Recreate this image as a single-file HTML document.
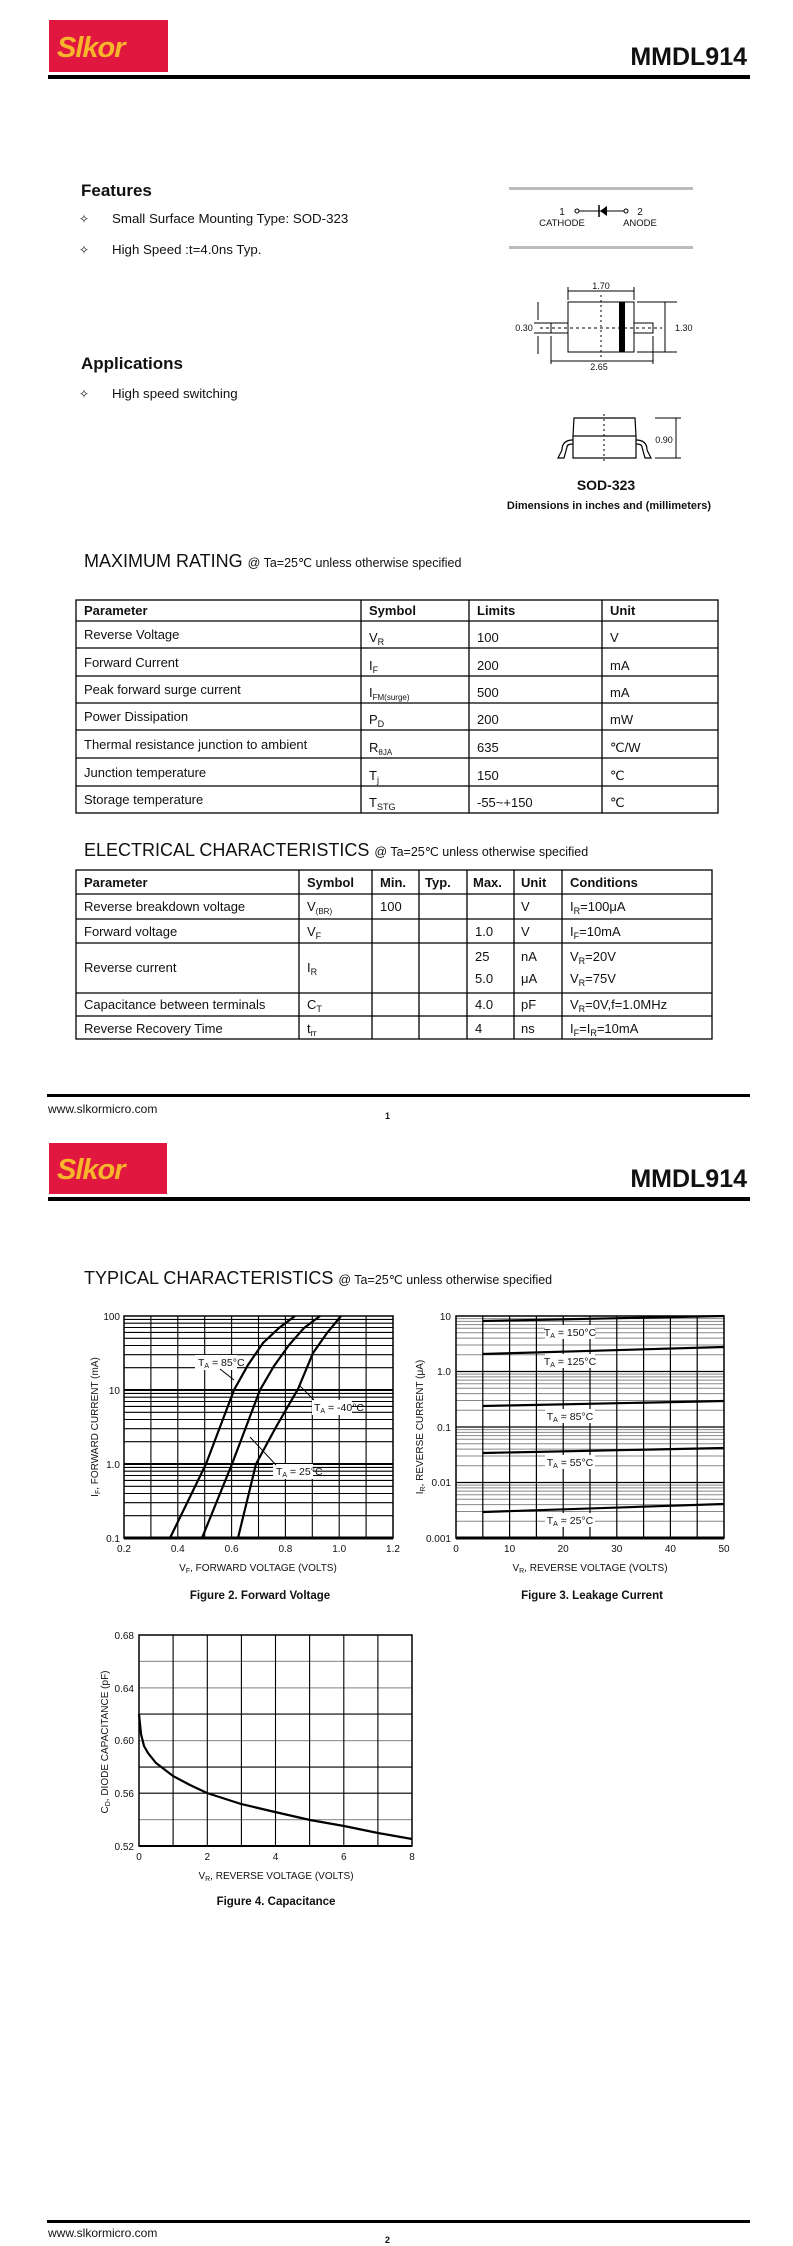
<!DOCTYPE html>
<html><head><meta charset="utf-8"><style>
html,body{margin:0;padding:0;background:#fff}
svg{display:block}
.t{font-family:"Liberation Sans",Arial,sans-serif;fill:#111}
.n{font-family:"Liberation Sans Narrow","Liberation Sans",Arial,sans-serif;fill:#111}
.b{font-weight:bold}
</style></head><body>
<svg width="793" height="2246" viewBox="0 0 793 2246" xmlns="http://www.w3.org/2000/svg">
<!-- PAGE 1 HEADER -->
<rect x="49" y="20" width="119" height="52" fill="#e0173f"/>
<text x="57" y="57" font-size="29" font-style="italic" font-weight="bold" style="fill:#f7b52c;font-family:'Liberation Sans',Arial,sans-serif;letter-spacing:-1px">Slkor</text>
<text x="747" y="65" class="t b" font-size="25" text-anchor="end">MMDL914</text>
<rect x="48" y="75" width="702" height="4" fill="#000"/>

<text x="81" y="196" class="t b" font-size="17">Features</text>
<text x="79" y="223" class="t" font-size="12">✧</text>
<text x="112" y="223" class="t" font-size="13.3">Small Surface Mounting Type: SOD-323</text>
<text x="79" y="254" class="t" font-size="12">✧</text>
<text x="112" y="254" class="t" font-size="13.3">High Speed :t=4.0ns Typ.</text>
<text x="81" y="369" class="t b" font-size="17">Applications</text>
<text x="79" y="398" class="t" font-size="12">✧</text>
<text x="112" y="398" class="t" font-size="13.3">High speed switching</text>

<!-- diode symbol -->
<rect x="509" y="187" width="184" height="3" fill="#bbb"/>
<rect x="509" y="246" width="184" height="3" fill="#bbb"/>
<text x="562" y="215" class="n" font-size="10" text-anchor="middle">1</text>
<circle cx="577" cy="211" r="2" fill="none" stroke="#000"/>
<line x1="579" y1="211" x2="624" y2="211" stroke="#000"/>
<line x1="599" y1="205" x2="599" y2="217" stroke="#000" stroke-width="1.5"/>
<polygon points="600,211 607,206 607,216" fill="#000"/>
<circle cx="626" cy="211" r="2" fill="none" stroke="#000"/>
<text x="640" y="215" class="n" font-size="10" text-anchor="middle">2</text>
<text x="562" y="226" class="n" font-size="9.5" text-anchor="middle">CATHODE</text>
<text x="640" y="226" class="n" font-size="9.5" text-anchor="middle">ANODE</text>

<!-- package top view -->
<g stroke="#000" fill="none" stroke-width="1">
<rect x="568" y="302" width="66" height="50"/>
<rect x="551" y="323" width="17" height="10"/>
<rect x="634" y="323" width="19" height="10"/>
<line x1="540" y1="328" x2="662" y2="328" stroke-dasharray="3,3"/>
<line x1="601" y1="295" x2="601" y2="360" stroke-dasharray="2,3"/>
<line x1="568" y1="287" x2="568" y2="300"/><line x1="634" y1="287" x2="634" y2="300"/>
<line x1="568" y1="291" x2="634" y2="291"/>
<line x1="637" y1="302" x2="677" y2="302"/><line x1="637" y1="352" x2="677" y2="352"/>
<line x1="665" y1="302" x2="665" y2="352"/>
<line x1="551" y1="336" x2="551" y2="364"/><line x1="653" y1="336" x2="653" y2="364"/>
<line x1="551" y1="361" x2="653" y2="361"/>
<line x1="538" y1="302" x2="538" y2="320"/><line x1="538" y1="336" x2="538" y2="354"/>
<line x1="534" y1="323" x2="551" y2="323"/><line x1="534" y1="333" x2="551" y2="333"/>
</g>
<rect x="619" y="302" width="6" height="50" fill="#000"/>
<text x="601" y="289" class="n" font-size="9" text-anchor="middle">1.70</text>
<text x="675" y="331" class="n" font-size="9">1.30</text>
<text x="524" y="331" class="n" font-size="9" text-anchor="middle">0.30</text>
<text x="599" y="370" class="n" font-size="9" text-anchor="middle">2.65</text>
<!-- side view -->
<g stroke="#000" fill="none" stroke-width="1.2">
<path d="M573,436 L574,418 L635,418 L636,436"/>
<rect x="573" y="436" width="63" height="22"/>
<path d="M573,440 Q562,440 562,450 L558,458 L564,458 L567,447 Q567,444 573,444"/>
<path d="M636,440 Q647,440 647,450 L651,458 L645,458 L642,447 Q642,444 636,444"/>
<line x1="604" y1="414" x2="604" y2="462" stroke-dasharray="2,3" stroke-width="1"/>
<line x1="655" y1="418" x2="681" y2="418" stroke-width="1"/><line x1="655" y1="458" x2="681" y2="458" stroke-width="1"/>
<line x1="676" y1="418" x2="676" y2="458" stroke-width="1"/>
</g>
<text x="664" y="443" class="n" font-size="9" text-anchor="middle">0.90</text>
<text x="606" y="490" class="t b" font-size="14" text-anchor="middle">SOD-323</text>
<text x="609" y="509" class="t b" font-size="11" text-anchor="middle">Dimensions in inches and (millimeters)</text>

<!-- MAX RATING -->
<text x="84" y="567" class="t" font-size="18">MAXIMUM RATING <tspan font-size="12.5">@ Ta=25℃  unless otherwise specified</tspan></text>
<g stroke="#000" stroke-width="1.3" fill="none">
<rect x="76" y="600" width="642" height="213"/>
<line x1="76" y1="621" x2="718" y2="621"/><line x1="76" y1="648" x2="718" y2="648"/>
<line x1="76" y1="676" x2="718" y2="676"/><line x1="76" y1="703" x2="718" y2="703"/>
<line x1="76" y1="730" x2="718" y2="730"/><line x1="76" y1="758" x2="718" y2="758"/>
<line x1="76" y1="786" x2="718" y2="786"/>
<line x1="361" y1="600" x2="361" y2="813"/><line x1="469" y1="600" x2="469" y2="813"/><line x1="602" y1="600" x2="602" y2="813"/>
</g>
<g class="t" font-size="13">
<text x="84" y="615" class="t b">Parameter</text><text x="369" y="615" class="t b">Symbol</text><text x="477" y="615" class="t b">Limits</text><text x="610" y="615" class="t b">Unit</text>
<text x="84" y="639">Reverse Voltage</text><text x="369" y="642">V<tspan font-size="9" dy="3">R</tspan></text><text x="477" y="642">100</text><text x="610" y="642">V</text>
<text x="84" y="667">Forward Current</text><text x="369" y="670">I<tspan font-size="9" dy="3">F</tspan></text><text x="477" y="670">200</text><text x="610" y="670">mA</text>
<text x="84" y="694">Peak forward surge current</text><text x="369" y="697">I<tspan font-size="8" dy="3">FM(surge)</tspan></text><text x="477" y="697">500</text><text x="610" y="697">mA</text>
<text x="84" y="721">Power Dissipation</text><text x="369" y="724">P<tspan font-size="9" dy="3">D</tspan></text><text x="477" y="724">200</text><text x="610" y="724">mW</text>
<text x="84" y="749">Thermal resistance junction to ambient</text><text x="369" y="752">R<tspan font-size="8" dy="3">θJA</tspan></text><text x="477" y="752">635</text><text x="610" y="752">℃/W</text>
<text x="84" y="777">Junction temperature</text><text x="369" y="780">T<tspan font-size="9" dy="3">j</tspan></text><text x="477" y="780">150</text><text x="610" y="780">℃</text>
<text x="84" y="804">Storage temperature</text><text x="369" y="807">T<tspan font-size="9" dy="3">STG</tspan></text><text x="477" y="807">-55~+150</text><text x="610" y="807">℃</text>
</g>

<!-- ELECTRICAL -->
<text x="84" y="856" class="t" font-size="18">ELECTRICAL CHARACTERISTICS <tspan font-size="12.5">@ Ta=25℃ unless otherwise specified</tspan></text>
<g stroke="#000" stroke-width="1.3" fill="none">
<rect x="76" y="870" width="636" height="169"/>
<line x1="76" y1="894" x2="712" y2="894"/><line x1="76" y1="919" x2="712" y2="919"/>
<line x1="76" y1="943" x2="712" y2="943"/><line x1="76" y1="993" x2="712" y2="993"/>
<line x1="76" y1="1016" x2="712" y2="1016"/>
<line x1="299" y1="870" x2="299" y2="1039"/><line x1="372" y1="870" x2="372" y2="1039"/>
<line x1="419" y1="870" x2="419" y2="1039"/><line x1="467" y1="870" x2="467" y2="1039"/>
<line x1="514" y1="870" x2="514" y2="1039"/><line x1="562" y1="870" x2="562" y2="1039"/>
</g>
<g class="t" font-size="13">
<text x="84" y="887" class="t b">Parameter</text><text x="307" y="887" class="t b">Symbol</text><text x="380" y="887" class="t b">Min.</text><text x="425" y="887" class="t b">Typ.</text><text x="473" y="887" class="t b">Max.</text><text x="521" y="887" class="t b">Unit</text><text x="570" y="887" class="t b">Conditions</text>
<text x="84" y="911">Reverse breakdown voltage</text><text x="307" y="911">V<tspan font-size="8" dy="3">(BR)</tspan></text><text x="380" y="911">100</text><text x="521" y="911">V</text><text x="570" y="911">I<tspan font-size="9" dy="3">R</tspan><tspan dy="-3">=100μA</tspan></text>
<text x="84" y="936">Forward voltage</text><text x="307" y="936">V<tspan font-size="9" dy="3">F</tspan></text><text x="475" y="936">1.0</text><text x="521" y="936">V</text><text x="570" y="936">I<tspan font-size="9" dy="3">F</tspan><tspan dy="-3">=10mA</tspan></text>
<text x="84" y="972">Reverse current</text><text x="307" y="972">I<tspan font-size="9" dy="3">R</tspan></text>
<text x="475" y="961">25</text><text x="521" y="961">nA</text><text x="570" y="961">V<tspan font-size="9" dy="3">R</tspan><tspan dy="-3">=20V</tspan></text>
<text x="475" y="983">5.0</text><text x="521" y="983">μA</text><text x="570" y="983">V<tspan font-size="9" dy="3">R</tspan><tspan dy="-3">=75V</tspan></text>
<text x="84" y="1009">Capacitance between terminals</text><text x="307" y="1009">C<tspan font-size="9" dy="3">T</tspan></text><text x="475" y="1009">4.0</text><text x="521" y="1009">pF</text><text x="570" y="1009">V<tspan font-size="9" dy="3">R</tspan><tspan dy="-3">=0V,f=1.0MHz</tspan></text>
<text x="84" y="1033">Reverse Recovery Time</text><text x="307" y="1033">t<tspan font-size="9" dy="3">rr</tspan></text><text x="475" y="1033">4</text><text x="521" y="1033">ns</text><text x="570" y="1033">I<tspan font-size="9" dy="3">F</tspan><tspan dy="-3">=I</tspan><tspan font-size="9" dy="3">R</tspan><tspan dy="-3">=10mA</tspan></text>
</g>

<rect x="47" y="1094" width="703" height="3" fill="#000"/>
<text x="48" y="1113" class="t" font-size="12">www.slkormicro.com</text>
<text x="385" y="1119" class="t b" font-size="9">1</text>

<!-- PAGE 2 HEADER -->
<rect x="49" y="1143" width="118" height="51" fill="#e0173f"/>
<text x="57" y="1179" font-size="29" font-style="italic" font-weight="bold" style="fill:#f7b52c;font-family:'Liberation Sans',Arial,sans-serif;letter-spacing:-1px">Slkor</text>
<text x="747" y="1187" class="t b" font-size="25" text-anchor="end">MMDL914</text>
<rect x="48" y="1197" width="702" height="4" fill="#000"/>

<text x="84" y="1284" class="t" font-size="18">TYPICAL CHARACTERISTICS <tspan font-size="12.5">@ Ta=25℃ unless otherwise specified</tspan></text>

<!-- FIG 2 -->
<g stroke="#000" stroke-width="1.1" fill="none">
<path d="M124,1515.7H393M124,1502.7H393M124,1493.5H393M124,1486.3H393M124,1480.4H393M124,1475.5H393M124,1471.2H393M124,1467.4H393
M124,1441.7H393M124,1428.7H393M124,1419.5H393M124,1412.3H393M124,1406.4H393M124,1401.5H393M124,1397.2H393M124,1393.4H393
M124,1367.7H393M124,1354.7H393M124,1345.5H393M124,1338.3H393M124,1332.4H393M124,1327.5H393M124,1323.2H393M124,1319.4H393"/>
<path d="M124,1464H393M124,1390H393" stroke-width="2"/>
<path d="M150.9,1316V1538M177.8,1316V1538M204.7,1316V1538M231.6,1316V1538M258.5,1316V1538M285.4,1316V1538M312.3,1316V1538M339.2,1316V1538M366.1,1316V1538"/>
<rect x="124" y="1316" width="269" height="222" stroke-width="1.5"/>
<line x1="124" y1="1538" x2="393" y2="1538" stroke-width="3"/>
</g>
<g fill="#fff">
<rect x="195" y="1355" width="42" height="15"/>
<rect x="312" y="1400" width="40" height="15"/>
<rect x="273" y="1464" width="40" height="15"/>
</g>
<g stroke="#000" stroke-width="2.2" fill="none">
<polyline points="170,1538 188,1501 206,1464 220,1427 234,1390 248,1365 263,1343 279,1328 295,1316"/>
<polyline points="202,1538 217,1501 232,1464 246,1427 260,1390 274,1366 289,1345 304,1328 320,1316"/>
<polyline points="238,1538 247,1501 256,1464 276,1427 298,1389 313,1353 327,1333 341,1316"/>
</g>
<g stroke="#000" stroke-width="1">
<line x1="220" y1="1369" x2="234" y2="1380"/><line x1="314" y1="1400" x2="300" y2="1386"/><line x1="276" y1="1465" x2="250" y2="1437"/>
</g>
<g class="n" font-size="10.5">
<text x="198" y="1366">T<tspan font-size="7" dy="2">A</tspan><tspan dy="-2"> = 85°C</tspan></text>
<text x="314" y="1411">T<tspan font-size="7" dy="2">A</tspan><tspan dy="-2"> = -40°C</tspan></text>
<text x="276" y="1475">T<tspan font-size="7" dy="2">A</tspan><tspan dy="-2"> = 25°C</tspan></text>
</g>
<g class="n" font-size="10" text-anchor="end">
<text x="120" y="1320">100</text><text x="120" y="1394">10</text><text x="120" y="1468">1.0</text><text x="120" y="1542">0.1</text>
</g>
<g class="n" font-size="10" text-anchor="middle">
<text x="124" y="1552">0.2</text><text x="177.8" y="1552">0.4</text><text x="231.6" y="1552">0.6</text><text x="285.4" y="1552">0.8</text><text x="339.2" y="1552">1.0</text><text x="393" y="1552">1.2</text>
<text x="258" y="1571">V<tspan font-size="7" dy="2">F</tspan><tspan dy="-2">, FORWARD VOLTAGE (VOLTS)</tspan></text>
</g>
<text x="98" y="1427" class="t" font-size="10" text-anchor="middle" transform="rotate(-90 98 1427)">I<tspan font-size="7" dy="2">F</tspan><tspan dy="-2">, FORWARD CURRENT (mA)</tspan></text>
<text x="260" y="1599" class="t b" font-size="11.5" text-anchor="middle">Figure 2. Forward Voltage</text>

<!-- FIG 3 -->
<g stroke="#888" stroke-width="1" fill="none">
<path d="M456,1521.3H724M456,1511.5H724M456,1504.6H724M456,1499.2H724M456,1494.8H724M456,1491.1H724M456,1487.9H724M456,1485.1H724
M456,1465.8H724M456,1456H724M456,1449.1H724M456,1443.7H724M456,1439.3H724M456,1435.6H724M456,1432.4H724M456,1429.6H724
M456,1410.3H724M456,1400.5H724M456,1393.6H724M456,1388.2H724M456,1383.8H724M456,1380.1H724M456,1376.9H724M456,1374.1H724
M456,1354.8H724M456,1345H724M456,1338.1H724M456,1332.7H724M456,1328.3H724M456,1324.6H724M456,1321.4H724M456,1318.6H724"/>
</g>
<g stroke="#000" fill="none">
<path d="M456,1371.5H724M456,1427H724M456,1482.5H724" stroke-width="1.3"/>
<path d="M482.8,1316V1538M509.6,1316V1538M536.4,1316V1538M563.2,1316V1538M590,1316V1538M616.8,1316V1538M643.6,1316V1538M670.4,1316V1538M697.2,1316V1538" stroke-width="1.2"/>
<rect x="456" y="1316" width="268" height="222" stroke-width="1.5"/>
<line x1="456" y1="1538" x2="724" y2="1538" stroke-width="3"/>
</g>
<g fill="#fff">
<rect x="545" y="1325" width="50" height="14"/><rect x="545" y="1354" width="50" height="14"/>
<rect x="545" y="1409" width="50" height="14"/><rect x="545" y="1455" width="50" height="14"/>
<rect x="545" y="1513" width="50" height="14"/>
</g>
<g stroke="#000" stroke-width="2.2">
<line x1="483" y1="1321" x2="724" y2="1316"/>
<line x1="483" y1="1354" x2="724" y2="1347"/>
<line x1="483" y1="1406" x2="724" y2="1401"/>
<line x1="483" y1="1453" x2="724" y2="1448"/>
<line x1="483" y1="1512" x2="724" y2="1504"/>
</g>
<g class="n" font-size="10.5" text-anchor="middle">
<text x="570" y="1336">T<tspan font-size="7" dy="2">A</tspan><tspan dy="-2"> = 150°C</tspan></text>
<text x="570" y="1365">T<tspan font-size="7" dy="2">A</tspan><tspan dy="-2"> = 125°C</tspan></text>
<text x="570" y="1420">T<tspan font-size="7" dy="2">A</tspan><tspan dy="-2"> = 85°C</tspan></text>
<text x="570" y="1466">T<tspan font-size="7" dy="2">A</tspan><tspan dy="-2"> = 55°C</tspan></text>
<text x="570" y="1524">T<tspan font-size="7" dy="2">A</tspan><tspan dy="-2"> = 25°C</tspan></text>
</g>
<g class="n" font-size="10" text-anchor="end">
<text x="451" y="1320">10</text><text x="451" y="1375">1.0</text><text x="451" y="1431">0.1</text><text x="451" y="1486">0.01</text><text x="451" y="1542">0.001</text>
</g>
<g class="n" font-size="10" text-anchor="middle">
<text x="456" y="1552">0</text><text x="509.6" y="1552">10</text><text x="563.2" y="1552">20</text><text x="616.8" y="1552">30</text><text x="670.4" y="1552">40</text><text x="724" y="1552">50</text>
<text x="590" y="1571">V<tspan font-size="7" dy="2">R</tspan><tspan dy="-2">, REVERSE VOLTAGE (VOLTS)</tspan></text>
</g>
<text x="423" y="1427" class="t" font-size="10" text-anchor="middle" transform="rotate(-90 423 1427)">I<tspan font-size="7" dy="2">R</tspan><tspan dy="-2">, REVERSE CURRENT (μA)</tspan></text>
<text x="592" y="1599" class="t b" font-size="11.5" text-anchor="middle">Figure 3. Leakage Current</text>

<!-- FIG 4 -->
<g stroke="#999" stroke-width="1.2">
<line x1="139" y1="1661.4" x2="412" y2="1661.4"/><line x1="139" y1="1687.9" x2="412" y2="1687.9"/>
<line x1="139" y1="1740.6" x2="412" y2="1740.6"/><line x1="139" y1="1819.6" x2="412" y2="1819.6"/>
</g>
<g stroke="#000" stroke-width="1.1" fill="none">
<line x1="139" y1="1714.1" x2="412" y2="1714.1"/><line x1="139" y1="1767.1" x2="412" y2="1767.1"/><line x1="139" y1="1793.2" x2="412" y2="1793.2"/>
<path d="M173.1,1635V1846M207.3,1635V1846M241.4,1635V1846M275.5,1635V1846M309.6,1635V1846M343.8,1635V1846M377.9,1635V1846"/>
<rect x="139" y="1635" width="273" height="211" stroke-width="1.5"/>
<line x1="139" y1="1846" x2="412" y2="1846" stroke-width="2"/>
</g>
<polyline points="139,1714 141,1734 144,1746 148,1753 156,1763 173,1776 190,1785 207,1793 241,1804 275,1812 310,1820 344,1826 378,1833 412,1839" stroke="#000" stroke-width="2.2" fill="none"/>
<g class="n" font-size="10" text-anchor="end">
<text x="134" y="1639">0.68</text><text x="134" y="1692">0.64</text><text x="134" y="1744">0.60</text><text x="134" y="1797">0.56</text><text x="134" y="1850">0.52</text>
</g>
<g class="n" font-size="10" text-anchor="middle">
<text x="139" y="1860">0</text><text x="207.3" y="1860">2</text><text x="275.5" y="1860">4</text><text x="343.8" y="1860">6</text><text x="412" y="1860">8</text>
<text x="276" y="1879">V<tspan font-size="7" dy="2">R</tspan><tspan dy="-2">, REVERSE VOLTAGE (VOLTS)</tspan></text>
</g>
<text x="108" y="1742" class="t" font-size="10" text-anchor="middle" transform="rotate(-90 108 1742)">C<tspan font-size="7" dy="2">D</tspan><tspan dy="-2">, DIODE CAPACITANCE (pF)</tspan></text>
<text x="276" y="1905" class="t b" font-size="11.5" text-anchor="middle">Figure 4. Capacitance</text>

<rect x="47" y="2220" width="703" height="3" fill="#000"/>
<text x="48" y="2237" class="t" font-size="12">www.slkormicro.com</text>
<text x="385" y="2243" class="t b" font-size="9">2</text>
</svg>
</body></html>
